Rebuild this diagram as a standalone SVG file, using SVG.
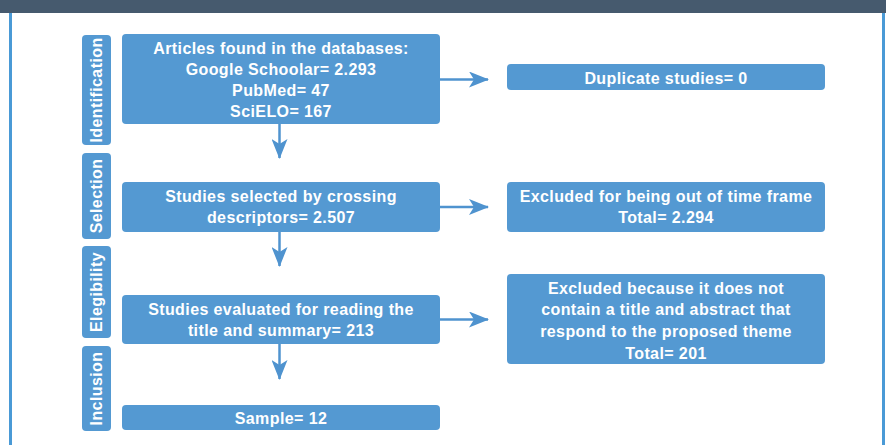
<svg xmlns="http://www.w3.org/2000/svg" width="886" height="445" viewBox="0 0 886 445">
<defs>
<style>
.box{fill:#5499d2;}
.lab{fill:#5499d2;}
.t{font-family:"Liberation Sans",Arial,sans-serif;font-weight:bold;font-size:16px;fill:#ffffff;text-anchor:middle;letter-spacing:0.4px;}
.conn line{stroke:#4f93cf;stroke-width:2.5;fill:none;}
</style>
<marker id="ah" viewBox="0 0 20 16" refX="19" refY="8" markerWidth="20" markerHeight="16" markerUnits="userSpaceOnUse" orient="auto">
<path d="M0,0 L20,8 L0,16 L5,8 Z" fill="#4f93cf"/>
</marker>
</defs>
<rect x="0" y="0" width="886" height="445" fill="#ffffff"/>
<rect x="0" y="0" width="886" height="13" fill="#465a6e"/>
<line x1="10.5" y1="13" x2="10.5" y2="445" stroke="#4a9ad6" stroke-width="3"/>
<line x1="883.5" y1="13" x2="883.5" y2="445" stroke="#4a9ad6" stroke-width="3"/>

<g id="stage-identification"><rect class="lab" x="82" y="35" width="29" height="110" rx="4"/><text class="t" transform="translate(102,90) rotate(-90)">Identification</text></g>
<g id="stage-selection"><rect class="lab" x="82" y="153" width="29" height="86" rx="4"/><text class="t" transform="translate(102,196) rotate(-90)">Selection</text></g>
<g id="stage-elegibility"><rect class="lab" x="82" y="246" width="29" height="92" rx="4"/><text class="t" transform="translate(102,292) rotate(-90)">Elegibility</text></g>
<g id="stage-inclusion"><rect class="lab" x="82" y="346" width="29" height="85" rx="4"/><text class="t" transform="translate(102,388.5) rotate(-90)">Inclusion</text></g>

<g id="articles-found"><rect class="box" x="122" y="34" width="318" height="90" rx="4"/>
<text class="t" x="281" y="54">Articles found in the databases:</text>
<text class="t" x="281" y="75">Google Schoolar= 2.293</text>
<text class="t" x="281" y="96">PubMed= 47</text>
<text class="t" x="281" y="117">SciELO= 167</text></g>

<g id="studies-selected"><rect class="box" x="122" y="182" width="318" height="50" rx="4"/>
<text class="t" x="281" y="202">Studies selected by crossing</text>
<text class="t" x="281" y="223">descriptors= 2.507</text></g>

<g id="studies-evaluated"><rect class="box" x="122" y="295" width="318" height="49" rx="4"/>
<text class="t" x="281" y="315">Studies evaluated for reading the</text>
<text class="t" x="281" y="336">title and summary= 213</text></g>

<g id="sample"><rect class="box" x="122" y="405" width="318" height="25" rx="4"/>
<text class="t" x="281" y="424">Sample= 12</text></g>

<g id="duplicates"><rect class="box" x="507" y="64" width="318" height="26" rx="4"/>
<text class="t" x="666" y="84">Duplicate studies= 0</text></g>

<g id="excluded-time"><rect class="box" x="507" y="182" width="318" height="50" rx="4"/>
<text class="t" x="666" y="202">Excluded for being out of time frame</text>
<text class="t" x="666" y="223">Total= 2.294</text></g>

<g id="excluded-theme"><rect class="box" x="507" y="274" width="318" height="90" rx="4"/>
<text class="t" x="666" y="294">Excluded because it does not</text>
<text class="t" x="666" y="315">contain a title and abstract that</text>
<text class="t" x="666" y="337">respond to the proposed theme</text>
<text class="t" x="666" y="359">Total= 201</text></g>

<g class="conn" id="connectors">
<line x1="440" y1="79.5" x2="488" y2="79.5" marker-end="url(#ah)"/>
<line x1="440" y1="207" x2="488" y2="207" marker-end="url(#ah)"/>
<line x1="440" y1="319.5" x2="488" y2="319.5" marker-end="url(#ah)"/>
<line x1="279.5" y1="124" x2="279.5" y2="158" marker-end="url(#ah)"/>
<line x1="279.5" y1="232" x2="279.5" y2="266" marker-end="url(#ah)"/>
<line x1="279.5" y1="344" x2="279.5" y2="379" marker-end="url(#ah)"/>
</g>
</svg>
